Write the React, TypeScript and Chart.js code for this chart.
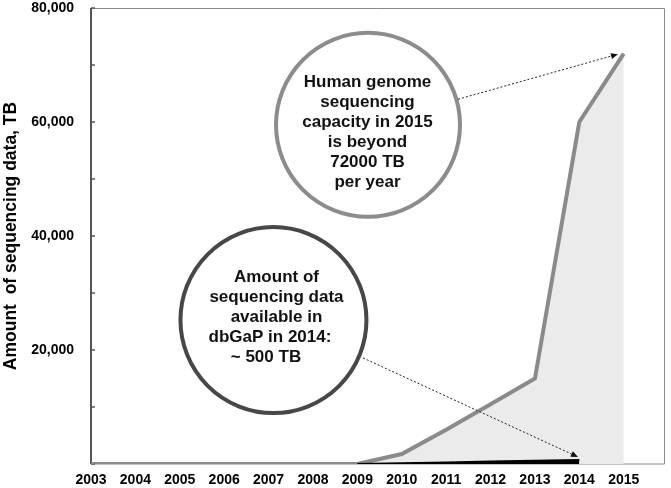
import React, { useEffect, useRef } from 'react';
import { Chart, registerables } from 'chart.js';

Chart.register(...registerables);

// ---- data ----
const years = [2003, 2004, 2005, 2006, 2007, 2008, 2009, 2010, 2011, 2012, 2013, 2014, 2015];
const sequencingCapacity = [0, 0, 0, 0, 0, 0, 0, 1750, 6000, 10500, 15000, 60000, 72000];
const dbgapYears = [2009, 2010, 2011, 2012, 2013, 2014];
const dbgapAmount = [0, 140, 280, 420, 560, 700];
const yTickValues = [0, 10000, 20000, 30000, 40000, 50000, 60000, 70000, 80000];
const yLabelValues = [20000, 40000, 60000, 80000];
const yTitle = 'Amount  of sequencing data, TB';
const capacityText = ['Human genome', 'sequencing', 'capacity in 2015', 'is beyond', '72000 TB', 'per year'];
const dbgapText = ['Amount of', 'sequencing data', 'available in', 'dbGaP in 2014:', '~ 500 TB'];

const FONT = "'Liberation Sans', Arial, Helvetica, sans-serif";

const frameAndTicks = {
  id: 'frameAndTicks',
  beforeDatasetsDraw(chart: any) {
    const { ctx, chartArea } = chart;
    const { left, right, top, bottom } = chartArea;
    ctx.save();
    ctx.strokeStyle = '#8a8a8a';
    ctx.lineWidth = 1;
    ctx.beginPath();
    ctx.moveTo(left, top + 0.5);
    ctx.lineTo(right - 0.5, top + 0.5);
    ctx.lineTo(right - 0.5, bottom);
    ctx.lineTo(left, bottom);
    ctx.stroke();
    ctx.strokeStyle = '#555';
    ctx.lineWidth = 2;
    ctx.beginPath();
    ctx.moveTo(left, top);
    ctx.lineTo(left, bottom);
    ctx.stroke();
    const ys = chart.scales.y;
    ctx.lineWidth = 1.5;
    yTickValues.forEach((v) => {
      const py = ys.getPixelForValue(v);
      ctx.beginPath();
      ctx.moveTo(left, py);
      ctx.lineTo(left + 4, py);
      ctx.stroke();
    });
    ctx.restore();
  },
};

function drawArrow(ctx: any, x1: number, y1: number, x2: number, y2: number) {
  ctx.save();
  ctx.strokeStyle = '#222';
  ctx.fillStyle = '#111';
  ctx.lineWidth = 1;
  ctx.setLineDash([2, 2]);
  const ang = Math.atan2(y2 - y1, x2 - x1);
  const hl = 7;
  ctx.beginPath();
  ctx.moveTo(x1, y1);
  ctx.lineTo(x2 - hl * Math.cos(ang), y2 - hl * Math.sin(ang));
  ctx.stroke();
  ctx.setLineDash([]);
  ctx.beginPath();
  ctx.moveTo(x2, y2);
  ctx.lineTo(x2 - hl * Math.cos(ang) + 3 * Math.sin(ang), y2 - hl * Math.sin(ang) - 3 * Math.cos(ang));
  ctx.lineTo(x2 - hl * Math.cos(ang) - 3 * Math.sin(ang), y2 - hl * Math.sin(ang) + 3 * Math.cos(ang));
  ctx.closePath();
  ctx.fill();
  ctx.restore();
}

const annotations = {
  id: 'annotations',
  afterDatasetsDraw(chart: any) {
    const { ctx } = chart;
    const xs = chart.scales.x;
    const ys = chart.scales.y;
    const P = (x: number, y: number) => [xs.getPixelForValue(x), ys.getPixelForValue(y)];

    const [c1x, c1y] = P(2009.24, 59500);
    ctx.save();
    ctx.lineWidth = 4;
    ctx.strokeStyle = '#8c8c8c';
    ctx.beginPath();
    ctx.arc(c1x, c1y, 92, 0, Math.PI * 2);
    ctx.stroke();
    ctx.strokeStyle = '#474747';
    const [c2x, c2y] = P(2007.11, 25250);
    ctx.beginPath();
    ctx.arc(c2x, c2y, 93, 0, Math.PI * 2);
    ctx.stroke();

    ctx.fillStyle = '#111';
    ctx.font = `bold 17px ${FONT}`;
    ctx.textAlign = 'center';
    ctx.textBaseline = 'middle';
    capacityText.forEach((t, i) => {
      ctx.fillText(t, c1x - 0.5, c1y - 43 + i * 20);
    });
    const offs = [3, 3, 3, -3.5, -7.5];
    dbgapText.forEach((t, i) => {
      ctx.fillText(t, c2x + offs[i], c2y - 43 + i * 20);
    });
    ctx.restore();

    const [a1x, a1y] = P(2011.27, 64000);
    const [b1x, b1y] = P(2014.87, 71900);
    drawArrow(ctx, a1x, a1y, b1x, b1y);
    const [a2x, a2y] = P(2009.13, 18600);
    const [b2x, b2y] = P(2013.97, 1230);
    drawArrow(ctx, a2x, a2y, b2x, b2y);
  },
};

export default function App() {
  const ref = useRef<HTMLCanvasElement | null>(null);
  useEffect(() => {
    if (!ref.current) return;
    const chart = new Chart(ref.current, {
      type: 'line',
      data: {
        datasets: [
          {
            label: 'dbGaP',
            data: dbgapYears.map((x, i) => ({ x, y: dbgapAmount[i] })),
            borderColor: '#000',
            backgroundColor: '#000',
            borderWidth: 2,
            fill: 'origin',
            pointRadius: 0,
            tension: 0,
          },
          {
            label: 'Capacity',
            data: years.map((x, i) => ({ x, y: sequencingCapacity[i] })),
            borderColor: '#8a8a8a',
            backgroundColor: '#ebebeb',
            borderWidth: 4,
            fill: 'origin',
            pointRadius: 0,
            tension: 0,
          },
        ],
      },
      options: {
        responsive: false,
        animation: false,
        events: [],
        layout: { padding: { left: 0, top: 8, right: 6, bottom: 0 } },
        plugins: { legend: { display: false }, tooltip: { enabled: false } },
        scales: {
          x: {
            type: 'linear',
            min: 2003,
            max: 2015.93,
            grid: { display: false, drawTicks: false },
            border: { display: false },
            afterBuildTicks: (s: any) => {
              s.ticks = years.map((v) => ({ value: v }));
            },
            afterFit: (s: any) => {
              s.height = 24;
              s.paddingLeft = 0;
              s.paddingRight = 0;
            },
            ticks: {
              autoSkip: false,
              maxRotation: 0,
              padding: 8,
              color: '#000',
              font: { family: FONT, size: 14, weight: 'bold' },
              callback: (v: any) => String(v),
            },
          },
          y: {
            min: 0,
            max: 80000,
            grid: { display: false, drawTicks: false },
            border: { display: false },
            afterBuildTicks: (s: any) => {
              s.ticks = yTickValues.map((v) => ({ value: v }));
            },
            afterFit: (s: any) => {
              s.width = 91;
              s.paddingTop = 0;
              s.paddingBottom = 0;
            },
            ticks: {
              autoSkip: false,
              padding: 17,
              color: '#000',
              font: { family: FONT, size: 14, weight: 'bold' },
              callback: (v: any) => (yLabelValues.includes(Number(v)) ? Number(v).toLocaleString('en-US') : ''),
            },
            title: {
              display: true,
              text: yTitle,
              color: '#000',
              padding: { top: 1, bottom: 0 },
              font: { family: FONT, size: 17.5, weight: 'bold' },
            },
          },
        },
      },
      plugins: [frameAndTicks, annotations],
    });
    return () => chart.destroy();
  }, []);
  return (
    <div style={{ position: 'fixed', left: 0, top: 0, width: 671, height: 488, background: '#fff' }}>
      <canvas ref={ref} width={671} height={488} />
    </div>
  );
}
